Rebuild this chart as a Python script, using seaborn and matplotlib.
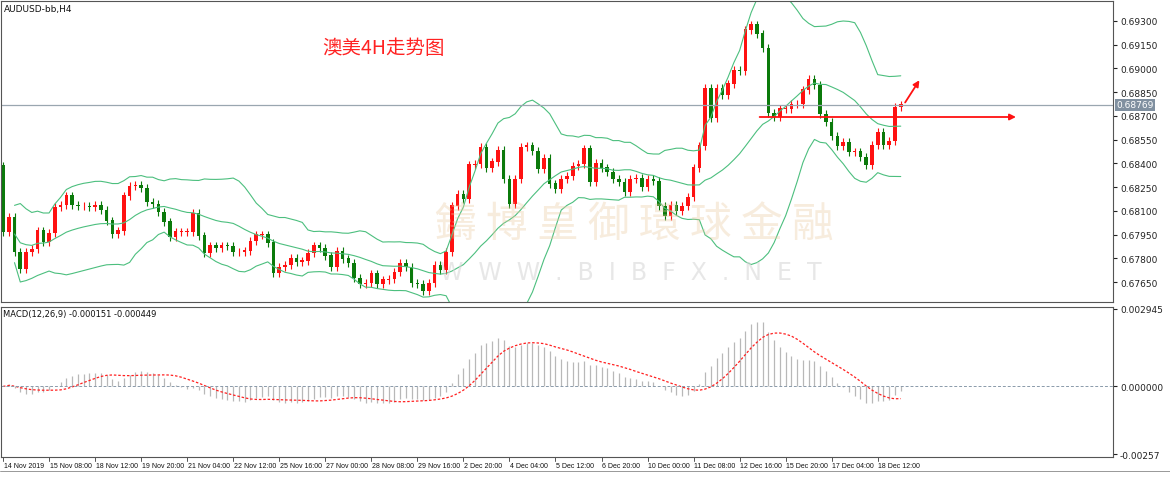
import numpy as np
import pandas as pd
import matplotlib
matplotlib.use("Agg")
import matplotlib.pyplot as plt
import seaborn as sns

first_open = 0.68385
closes = [
 0.67964,0.68059,0.67838,0.67732,0.67838,0.67859,0.67974,0.67905,0.67958,0.68122,
 0.68137,0.68196,0.68137,0.68129,0.68129,0.68122,0.68137,0.68105,0.68038,0.67953,
 0.67974,0.68196,0.68255,0.68263,0.68242,0.68154,0.68143,0.68091,0.68031,0.67936,
 0.67968,0.67968,0.67968,0.68084,0.67943,0.67833,0.67880,0.67863,0.67880,0.67876,
 0.67838,0.67838,0.67848,0.67907,0.67949,0.67949,0.67897,0.67707,0.67743,0.67757,
 0.67802,0.67774,0.67785,0.67833,0.67880,0.67863,0.67816,0.67743,0.67844,0.67796,
 0.67770,0.67673,0.67635,0.67642,0.67703,0.67637,0.67664,0.67669,0.67711,0.67770,
 0.67743,0.67644,0.67637,0.67595,0.67644,0.67757,0.67728,0.67838,0.68132,0.68206,
 0.68175,0.68390,0.68396,0.68503,0.68371,0.68409,0.68484,0.68301,0.68143,0.68301,
 0.68503,0.68510,0.68478,0.68364,0.68434,0.68270,0.68238,0.68301,0.68320,0.68383,
 0.68396,0.68491,0.68282,0.68402,0.68371,0.68345,0.68301,0.68282,0.68219,0.68301,
 0.68307,0.68251,0.68301,0.68288,0.68130,0.68067,0.68137,0.68099,0.68130,0.68187,
 0.68371,0.68510,0.68876,0.68687,0.68876,0.68832,0.68902,0.68990,0.68984,0.69243,
 0.69275,0.69218,0.69129,0.68718,0.68693,0.68744,0.68744,0.68775,0.68775,0.68864,
 0.68933,0.68895,0.68712,0.68661,0.68573,0.68510,0.68535,0.68472,0.68472,0.68440,
 0.68390,0.68516,0.68598,0.68516,0.68541,0.68756,0.68769]
tick_labels = ["14 Nov 2019","15 Nov 08:00","18 Nov 12:00","19 Nov 20:00","21 Nov 04:00",
 "22 Nov 12:00","25 Nov 16:00","27 Nov 00:00","28 Nov 08:00","29 Nov 16:00","2 Dec 20:00",
 "4 Dec 04:00","5 Dec 12:00","6 Dec 20:00","10 Dec 00:00","11 Dec 08:00","12 Dec 16:00",
 "15 Dec 20:00","17 Dec 04:00","18 Dec 12:00"]
price_ticks = [0.69300,0.69150,0.69000,0.68850,0.68700,0.68550,0.68400,0.68250,0.68100,0.67950,0.67800,0.67650]
last_price = 0.68769
support = 0.68693

sns.set_style("white")
plt.rcParams['font.family'] = ['DejaVu Sans', 'Noto Sans CJK SC']

n = len(closes)
idx = np.arange(n)
c = np.array(closes)
o = np.concatenate([[first_open], c[:-1]])
wick = 0.00025
hi = np.maximum(o, c) + wick
lo = np.minimum(o, c) - wick
df = pd.DataFrame({"i": idx, "close": c})
s = pd.Series(c)
mid = s.rolling(20, min_periods=3).mean()
sd = s.rolling(20, min_periods=3).std(ddof=0)
df["mid"], df["up"], df["dn"] = mid, mid + 2*sd, mid - 2*sd
macd = s.ewm(span=12, adjust=False).mean() - s.ewm(span=26, adjust=False).mean()
sig = macd.rolling(9, min_periods=1).mean()
df["macd"], df["sig"] = macd, sig

W, H = 1170, 481
fig = plt.figure(figsize=(W/100, H/100), dpi=100)
def box(l, t, r, b):
    return [l/W, 1-b/H, (r-l)/W, (b-t)/H]
ax = fig.add_axes(box(1, 2, 1113, 303))
ax2 = fig.add_axes(box(1, 308, 1113, 458))

xmax = (1113-2)/5.76
for a in (ax, ax2):
    a.set_xlim(-0.35, xmax)
    for sp in a.spines.values():
        sp.set_color("#555555"); sp.set_linewidth(0.8)
    a.yaxis.tick_right()
    a.tick_params(axis='y', labelsize=6.5, length=3, pad=2, colors="#222222", direction='out')
    a.set_xticks([])

green_c, red_c = "#0b7a0b", "#ff1111"
cols = np.where(c >= o, red_c, green_c)
ax.vlines(idx, lo, hi, colors=cols, linewidth=0.8)
ax.bar(idx, np.abs(c-o)+0.00003, bottom=np.minimum(o, c), width=0.62, color=cols, linewidth=0)
for col in ["up", "mid", "dn"]:
    sns.lineplot(data=df, x="i", y=col, ax=ax, color="#4cbf7e", linewidth=0.8)
ax.set_ylim(0.67524, 0.69426)
ax.set_yticks(price_ticks)
ax.set_yticklabels([f"{p:.5f}" for p in price_ticks])
ax.set_xlabel(""); ax.set_ylabel("")
ax.axhline(last_price, color="#9aa6b0", linewidth=0.9)
ax.text(1.003, last_price, f"{last_price:.5f}", transform=ax.get_yaxis_transform(),
        fontsize=6.5, color="white", va="center", ha="left",
        bbox=dict(boxstyle="square,pad=0.15", fc="#8090a0", ec="none"))
ax.annotate("", xy=(176.5, support), xytext=(131, support),
            arrowprops=dict(arrowstyle="-|>", color=red_c, lw=1.3, mutation_scale=9))
ax.annotate("", xy=(159.5, 0.68940), xytext=(156.5, 0.68770),
            arrowprops=dict(arrowstyle="-|>", color=red_c, lw=1.3, mutation_scale=9))
ax.text(55.5, 0.69130, "澳美4H走势图", fontsize=14, color="#ff2222",
        family=['Noto Sans CJK SC'], ha="left", va="center")
ax.text(0.003, 0.99, "AUDUSD-bb,H4", transform=ax.transAxes, fontsize=6.5, va="top", ha="left",
        color="#111111")
ax.text(0.39, 0.255, "鑄 博 皇 御 環 球 金 融", transform=ax.transAxes, fontsize=30,
        family=['Noto Sans CJK TC'], color="#e9c9a0", alpha=0.35, ha="left", va="center")
ax.text(0.395, 0.1, "W  W  W  .  B  I  B  F  X  .  N  E  T", transform=ax.transAxes,
        fontsize=17, color="#d8d8d8", alpha=0.6, ha="left", va="center")

ax2.vlines(idx, 0, df["macd"], colors="#b8b8b8", linewidth=0.9)
sns.lineplot(data=df, x="i", y="sig", ax=ax2, color="#ff2020", linewidth=0.9, linestyle=(0, (2, 1.5)))
ax2.axhline(0, color="#8a9aaa", linewidth=0.7, linestyle=(0, (3, 2)))
ax2.set_ylim(-0.002684, 0.003021)
ax2.set_yticks([0.002945, 0.0, -0.00257])
ax2.set_yticklabels(["0.002945", "0.000000", "-0.00257"])
ax2.set_xlabel(""); ax2.set_ylabel("")
ax2.text(0.002, 0.985, "MACD(12,26,9) -0.000151 -0.000449", transform=ax2.transAxes,
         fontsize=6, va="top", ha="left", color="#111111")

for k, lab in enumerate(tick_labels):
    i = k*8
    xf = ax2.transData.transform((i, 0))[0]
    fig.add_artist(plt.Line2D([xf/ (W), xf/W], [1-458/H, 1-462/H], color="#555555", lw=0.7))
    fig.text(xf/W + 0.0005, 1-466/H, lab, fontsize=5, va="center", ha="left", color="#111111",
             family=['Liberation Sans Narrow', 'Liberation Sans'])
fig.add_artist(plt.Line2D([0, 1], [1-472/H, 1-472/H], color="#888888", lw=0.6))

fig.savefig("out.png", dpi=100)
